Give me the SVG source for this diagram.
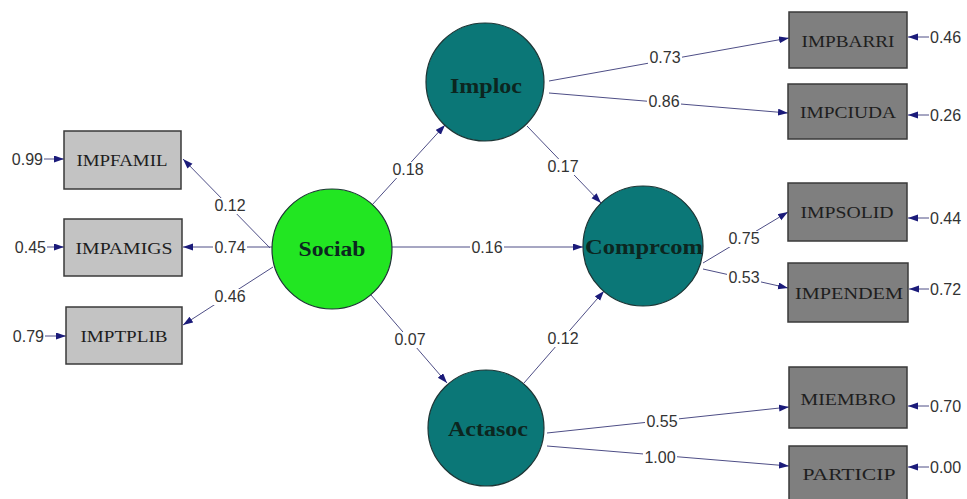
<svg xmlns="http://www.w3.org/2000/svg" width="967" height="499" viewBox="0 0 967 499">
<style>
.lat{stroke:#1d3535;stroke-width:1.2}
.teal{fill:#0b7777}
.green{fill:#22e622}
.ltxt{font-family:"Liberation Serif",serif;font-weight:bold;font-size:20px;fill:#0c2620;text-anchor:middle}
.boxL{fill:#c3c3c3;stroke:#3a3a3a;stroke-width:1.5}
.boxR{fill:#7f7f7f;stroke:#3a3a3a;stroke-width:1.5}
.btxt{font-family:"Liberation Serif",serif;font-size:17px;fill:#1e1e1e;text-anchor:middle}
.edge{stroke:#4e4e86;stroke-width:1;fill:none}
.lbg{fill:#fff}
.num{font-family:"Liberation Sans",sans-serif;font-size:16px;fill:#333;text-anchor:middle}
.err{font-family:"Liberation Sans",sans-serif;font-size:16px;fill:#333}
</style>
<defs>
<marker id="ah" markerUnits="userSpaceOnUse" markerWidth="10" markerHeight="8" refX="10" refY="3.5" orient="auto">
<path d="M0,0 L10,3.5 L0,7 z" fill="#1b1b7a"/>
</marker>
</defs>
<rect width="967" height="499" fill="#fff"/>

<g id="connectors">
<line class="edge" x1="270" y1="248" x2="183" y2="159" marker-end="url(#ah)"/>
<line class="edge" x1="272" y1="247" x2="183" y2="247" marker-end="url(#ah)"/>
<line class="edge" x1="273" y1="267" x2="183" y2="325" marker-end="url(#ah)"/>
<line class="edge" x1="44" y1="159" x2="64" y2="159" marker-end="url(#ah)"/>
<line class="edge" x1="47" y1="247" x2="64" y2="247" marker-end="url(#ah)"/>
<line class="edge" x1="45" y1="336" x2="66" y2="336" marker-end="url(#ah)"/>
<line class="edge" x1="372" y1="205" x2="445" y2="125" marker-end="url(#ah)"/>
<line class="edge" x1="527" y1="126" x2="601" y2="203" marker-end="url(#ah)"/>
<line class="edge" x1="392" y1="247" x2="583" y2="247" marker-end="url(#ah)"/>
<line class="edge" x1="371" y1="295" x2="447" y2="383" marker-end="url(#ah)"/>
<line class="edge" x1="524" y1="383" x2="604" y2="291" marker-end="url(#ah)"/>
<line class="edge" x1="549" y1="81" x2="789" y2="38" marker-end="url(#ah)"/>
<line class="edge" x1="549" y1="93" x2="788" y2="113" marker-end="url(#ah)"/>
<line class="edge" x1="703" y1="263" x2="788" y2="212" marker-end="url(#ah)"/>
<line class="edge" x1="703" y1="269" x2="788" y2="288" marker-end="url(#ah)"/>
<line class="edge" x1="547" y1="433" x2="789" y2="407" marker-end="url(#ah)"/>
<line class="edge" x1="547" y1="446" x2="789" y2="466" marker-end="url(#ah)"/>
<line class="edge" x1="929" y1="37" x2="908" y2="37" marker-end="url(#ah)"/>
<line class="edge" x1="929" y1="115" x2="908" y2="115" marker-end="url(#ah)"/>
<line class="edge" x1="929" y1="218" x2="908" y2="218" marker-end="url(#ah)"/>
<line class="edge" x1="929" y1="289" x2="909" y2="289" marker-end="url(#ah)"/>
<line class="edge" x1="929" y1="406" x2="908" y2="406" marker-end="url(#ah)"/>
<line class="edge" x1="929" y1="467" x2="908" y2="467" marker-end="url(#ah)"/>
<rect class="lbg" x="213" y="198" width="34" height="16"/>
<rect class="lbg" x="213" y="240" width="34" height="16"/>
<rect class="lbg" x="213" y="289" width="34" height="16"/>
<rect class="lbg" x="391" y="162" width="34" height="16"/>
<rect class="lbg" x="546" y="159" width="34" height="16"/>
<rect class="lbg" x="470" y="240" width="34" height="16"/>
<rect class="lbg" x="393" y="332" width="34" height="16"/>
<rect class="lbg" x="546" y="331" width="34" height="16"/>
<rect class="lbg" x="648" y="50" width="34" height="16"/>
<rect class="lbg" x="647" y="94" width="34" height="16"/>
<rect class="lbg" x="727" y="231" width="34" height="16"/>
<rect class="lbg" x="727" y="270" width="34" height="16"/>
<rect class="lbg" x="645" y="414" width="34" height="16"/>
<rect class="lbg" x="643" y="450" width="34" height="16"/>
<text class="num" x="230" y="211">0.12</text>
<text class="num" x="230" y="253">0.74</text>
<text class="num" x="230" y="302">0.46</text>
<text class="num" x="408" y="175">0.18</text>
<text class="num" x="563" y="172">0.17</text>
<text class="num" x="487" y="253">0.16</text>
<text class="num" x="410" y="345">0.07</text>
<text class="num" x="563" y="344">0.12</text>
<text class="num" x="665" y="63">0.73</text>
<text class="num" x="664" y="107">0.86</text>
<text class="num" x="744" y="244">0.75</text>
<text class="num" x="744" y="283">0.53</text>
<text class="num" x="662" y="427">0.55</text>
<text class="num" x="660" y="463">1.00</text>
<text class="err" x="43" y="165" text-anchor="end">0.99</text>
<text class="err" x="46" y="253" text-anchor="end">0.45</text>
<text class="err" x="44" y="342" text-anchor="end">0.79</text>
<text class="err" x="930" y="43">0.46</text>
<text class="err" x="930" y="121">0.26</text>
<text class="err" x="930" y="224">0.44</text>
<text class="err" x="930" y="295">0.72</text>
<text class="err" x="930" y="412">0.70</text>
<text class="err" x="930" y="473">0.00</text>
</g>

<g id="Sociab">
<circle class="green lat" cx="332" cy="249" r="60"/>
<text class="ltxt" x="332" y="256" textLength="67" lengthAdjust="spacingAndGlyphs" fill="#0a330a">Sociab</text>
</g>
<g id="Imploc">
<circle class="teal lat" cx="485" cy="82" r="59"/>
<text class="ltxt" x="486" y="93" textLength="72" lengthAdjust="spacingAndGlyphs">Imploc</text>
</g>
<g id="Comprcom">
<circle class="teal lat" cx="643" cy="246" r="60"/>
<text class="ltxt" x="644" y="254" textLength="118" lengthAdjust="spacingAndGlyphs">Comprcom</text>
</g>
<g id="Actasoc">
<circle class="teal lat" cx="486" cy="428" r="58"/>
<text class="ltxt" x="488" y="436" textLength="80" lengthAdjust="spacingAndGlyphs">Actasoc</text>
</g>

<g id="IMPFAMIL">
<rect class="boxL" x="64" y="131" width="117" height="58"/>
<text class="btxt" x="122" y="166" textLength="91" lengthAdjust="spacingAndGlyphs">IMPFAMIL</text>
</g>
<g id="IMPAMIGS">
<rect class="boxL" x="64" y="219" width="118" height="57"/>
<text class="btxt" x="124" y="254" textLength="97" lengthAdjust="spacingAndGlyphs">IMPAMIGS</text>
</g>
<g id="IMPTPLIB">
<rect class="boxL" x="66" y="307" width="116" height="57"/>
<text class="btxt" x="124" y="342" textLength="87" lengthAdjust="spacingAndGlyphs">IMPTPLIB</text>
</g>
<g id="IMPBARRI">
<rect class="boxR" x="789" y="12" width="118" height="56"/>
<text class="btxt" x="848" y="47" textLength="93" lengthAdjust="spacingAndGlyphs">IMPBARRI</text>
</g>
<g id="IMPCIUDA">
<rect class="boxR" x="788" y="84" width="119" height="55"/>
<text class="btxt" x="848" y="118" textLength="96" lengthAdjust="spacingAndGlyphs">IMPCIUDA</text>
</g>
<g id="IMPSOLID">
<rect class="boxR" x="788" y="183" width="119" height="58"/>
<text class="btxt" x="847" y="218" textLength="93" lengthAdjust="spacingAndGlyphs">IMPSOLID</text>
</g>
<g id="IMPENDEM">
<rect class="boxR" x="788" y="263" width="120" height="59"/>
<text class="btxt" x="849" y="299" textLength="108" lengthAdjust="spacingAndGlyphs">IMPENDEM</text>
</g>
<g id="MIEMBRO">
<rect class="boxR" x="789" y="367" width="118" height="61"/>
<text class="btxt" x="848" y="405" textLength="95" lengthAdjust="spacingAndGlyphs">MIEMBRO</text>
</g>
<g id="PARTICIP">
<rect class="boxR" x="789" y="446" width="118" height="60"/>
<text class="btxt" x="849" y="480" textLength="93" lengthAdjust="spacingAndGlyphs">PARTICIP</text>
</g>
</svg>
